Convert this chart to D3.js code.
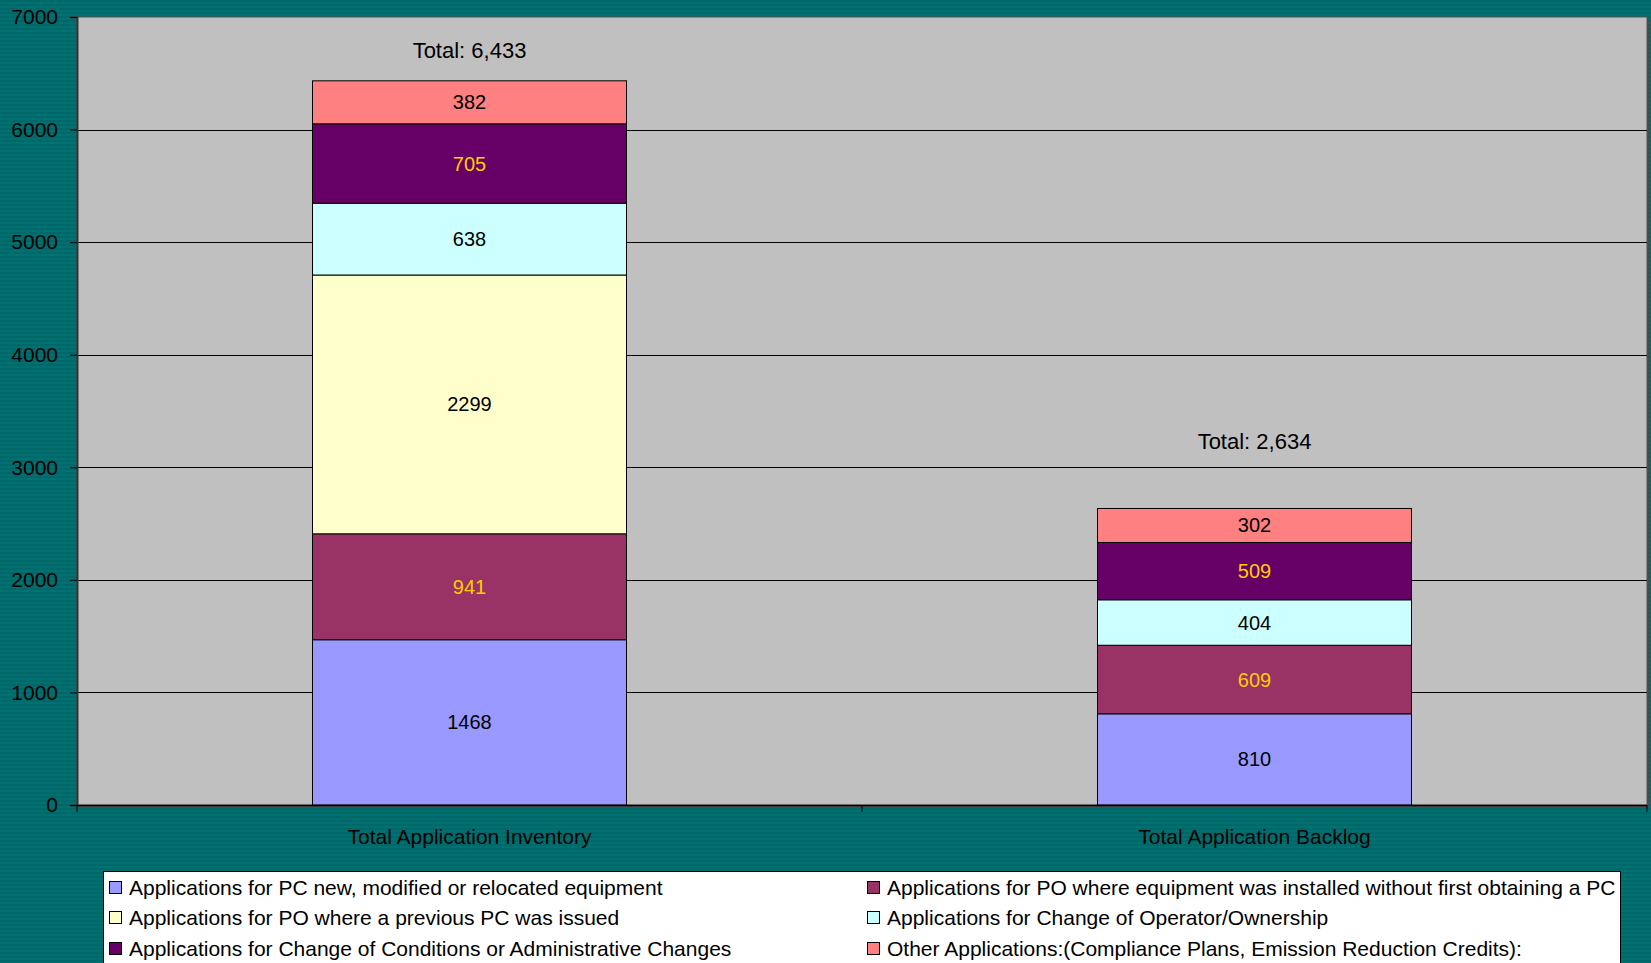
<!DOCTYPE html>
<html><head><meta charset="utf-8">
<script src="https://cdn.jsdelivr.net/npm/d3@7"></script>
<style>html,body{margin:0;padding:0;overflow:hidden;background:#006a6a}</style>
</head><body>
<svg id="c" width="1651" height="963"></svg>
<script>
const categories = ["Total Application Inventory", "Total Application Backlog"];
const seriesNames = [
  "Applications for PC new, modified or relocated equipment",
  "Applications for PO where equipment was installed without first obtaining a PC",
  "Applications for PO where a previous PC was issued",
  "Applications for Change of Operator/Ownership",
  "Applications for Change of Conditions or Administrative Changes",
  "Other Applications:(Compliance Plans, Emission Reduction Credits):"
];
const seriesColors = ["#9999ff", "#993366", "#ffffcc", "#ccffff", "#660066", "#ff8080"];
const labelColors = ["#000", "#ffcc00", "#000", "#000", "#ffcc00", "#000"];
const inventoryValues = [1468, 941, 2299, 638, 705, 382];
const backlogValues = [810, 609, 0, 404, 509, 302];
const totalLabels = ["Total: 6,433", "Total: 2,634"];
const totalLabelAnchors = [6700, 3235];
const yTicks = [0, 1000, 2000, 3000, 4000, 5000, 6000, 7000];
const legendOrder = [0, 1, 2, 3, 4, 5];

const svg = d3.select("#c");
const W = 1651, H = 963;
const font = "Liberation Sans, Arial, sans-serif";

// striped background
const defs = svg.append("defs");
const pat = defs.append("pattern").attr("id", "stripes").attr("width", 8).attr("height", 4)
  .attr("patternUnits", "userSpaceOnUse");
pat.append("rect").attr("width", 8).attr("height", 4).attr("fill", "#006868");
pat.append("rect").attr("y", 2).attr("width", 8).attr("height", 2).attr("fill", "#007070");
svg.append("rect").attr("width", W).attr("height", H).attr("fill", "url(#stripes)");

const L = 77, R = 1647, T = 17, B = 805;
const y = d3.scaleLinear().domain([0, 7000]).range([B, T]);
const x = d3.scaleBand().domain(categories).range([L, R]).padding(0);

// plot area
svg.append("rect").attr("x", L + 2).attr("y", T + 2).attr("width", R - L).attr("height", B - T).attr("fill", "#4a4a4a");
svg.append("rect").attr("x", L).attr("y", T).attr("width", R - L).attr("height", B - T).attr("fill", "#c0c0c0")
  .attr("stroke", "#555").attr("stroke-width", 1);

// gridlines
svg.append("g").selectAll("line").data(yTicks.filter(d => d > 0 && d < 7000)).join("line")
  .attr("x1", L).attr("x2", R).attr("y1", d => Math.round(y(d)) + 0.5).attr("y2", d => Math.round(y(d)) + 0.5)
  .attr("stroke", "#000").attr("stroke-width", 1);

// y axis
const yAxis = svg.append("g").attr("transform", `translate(${L},0)`)
  .call(d3.axisLeft(y).tickValues(yTicks).tickSize(7).tickPadding(12).tickFormat(d3.format("d")));
yAxis.select(".domain").attr("stroke", "#333").attr("stroke-width", 2);
yAxis.selectAll(".tick line").attr("stroke", "#000");
yAxis.selectAll("text").attr("font-family", font).attr("font-size", 21).attr("fill", "#000");

// stacked bars
const rows = categories.map((c, i) => {
  const vals = i === 0 ? inventoryValues : backlogValues;
  const o = { cat: c };
  seriesNames.forEach((s, j) => o[s] = vals[j]);
  return o;
});
const stack = d3.stack().keys(seriesNames)(rows);
const bw = x.bandwidth() * 0.4;
const gBars = svg.append("g");
stack.forEach((layer, j) => {
  layer.forEach(seg => {
    const v = seg[1] - seg[0];
    if (v <= 0) return;
    const cx = x(seg.data.cat) + x.bandwidth() / 2;
    gBars.append("rect").attr("x", cx - bw / 2).attr("y", y(seg[1])).attr("width", bw)
      .attr("height", y(seg[0]) - y(seg[1])).attr("fill", seriesColors[j]).attr("stroke", "#000").attr("stroke-width", 1);
  });
});
stack.forEach((layer, j) => {
  layer.forEach(seg => {
    const v = seg[1] - seg[0];
    if (v <= 0) return;
    const cx = x(seg.data.cat) + x.bandwidth() / 2;
    gBars.append("text").attr("x", cx).attr("y", (y(seg[0]) + y(seg[1])) / 2).attr("dy", "0.35em")
      .attr("text-anchor", "middle").attr("font-family", font).attr("font-size", 20)
      .attr("fill", labelColors[j]).text(v);
  });
});

// totals
categories.forEach((c, i) => {
  svg.append("text").attr("x", x(c) + x.bandwidth() / 2).attr("y", y(totalLabelAnchors[i])).attr("dy", "0.35em")
    .attr("text-anchor", "middle").attr("font-family", font).attr("font-size", 22).attr("fill", "#000").text(totalLabels[i]);
});

// x axis
svg.append("line").attr("x1", L).attr("x2", R).attr("y1", B + 0.5).attr("y2", B + 0.5).attr("stroke", "#000").attr("stroke-width", 1.5);
const bounds = [L, ...categories.map(c => x(c) + x.bandwidth())];
svg.append("g").selectAll("line").data(bounds).join("line")
  .attr("x1", d => d).attr("x2", d => d).attr("y1", B).attr("y2", B + 7).attr("stroke", "#000");
svg.append("g").selectAll("text").data(categories).join("text")
  .attr("x", d => x(d) + x.bandwidth() / 2).attr("y", 837).attr("dy", "0.35em").attr("text-anchor", "middle")
  .attr("font-family", font).attr("font-size", 21).attr("fill", "#000").text(d => d);

// legend
const lg = svg.append("g");
lg.append("rect").attr("x", 103.5).attr("y", 871.5).attr("width", 1517).attr("height", 120)
  .attr("fill", "#fff").attr("stroke", "#000").attr("stroke-width", 1);
const colX = [109, 867];
const rowY = [888, 918, 949];
legendOrder.forEach((k, idx) => {
  const cx = colX[idx % 2], cy = rowY[Math.floor(idx / 2)];
  lg.append("rect").attr("x", cx + 0.5).attr("y", cy - 6.5).attr("width", 12).attr("height", 12)
    .attr("fill", seriesColors[k]).attr("stroke", "#000").attr("stroke-width", 1);
  lg.append("text").attr("x", cx + 20).attr("y", cy).attr("dy", "0.35em").attr("font-family", font)
    .attr("font-size", 21).attr("fill", "#000").text(seriesNames[k]);
});
</script>
</body></html>
